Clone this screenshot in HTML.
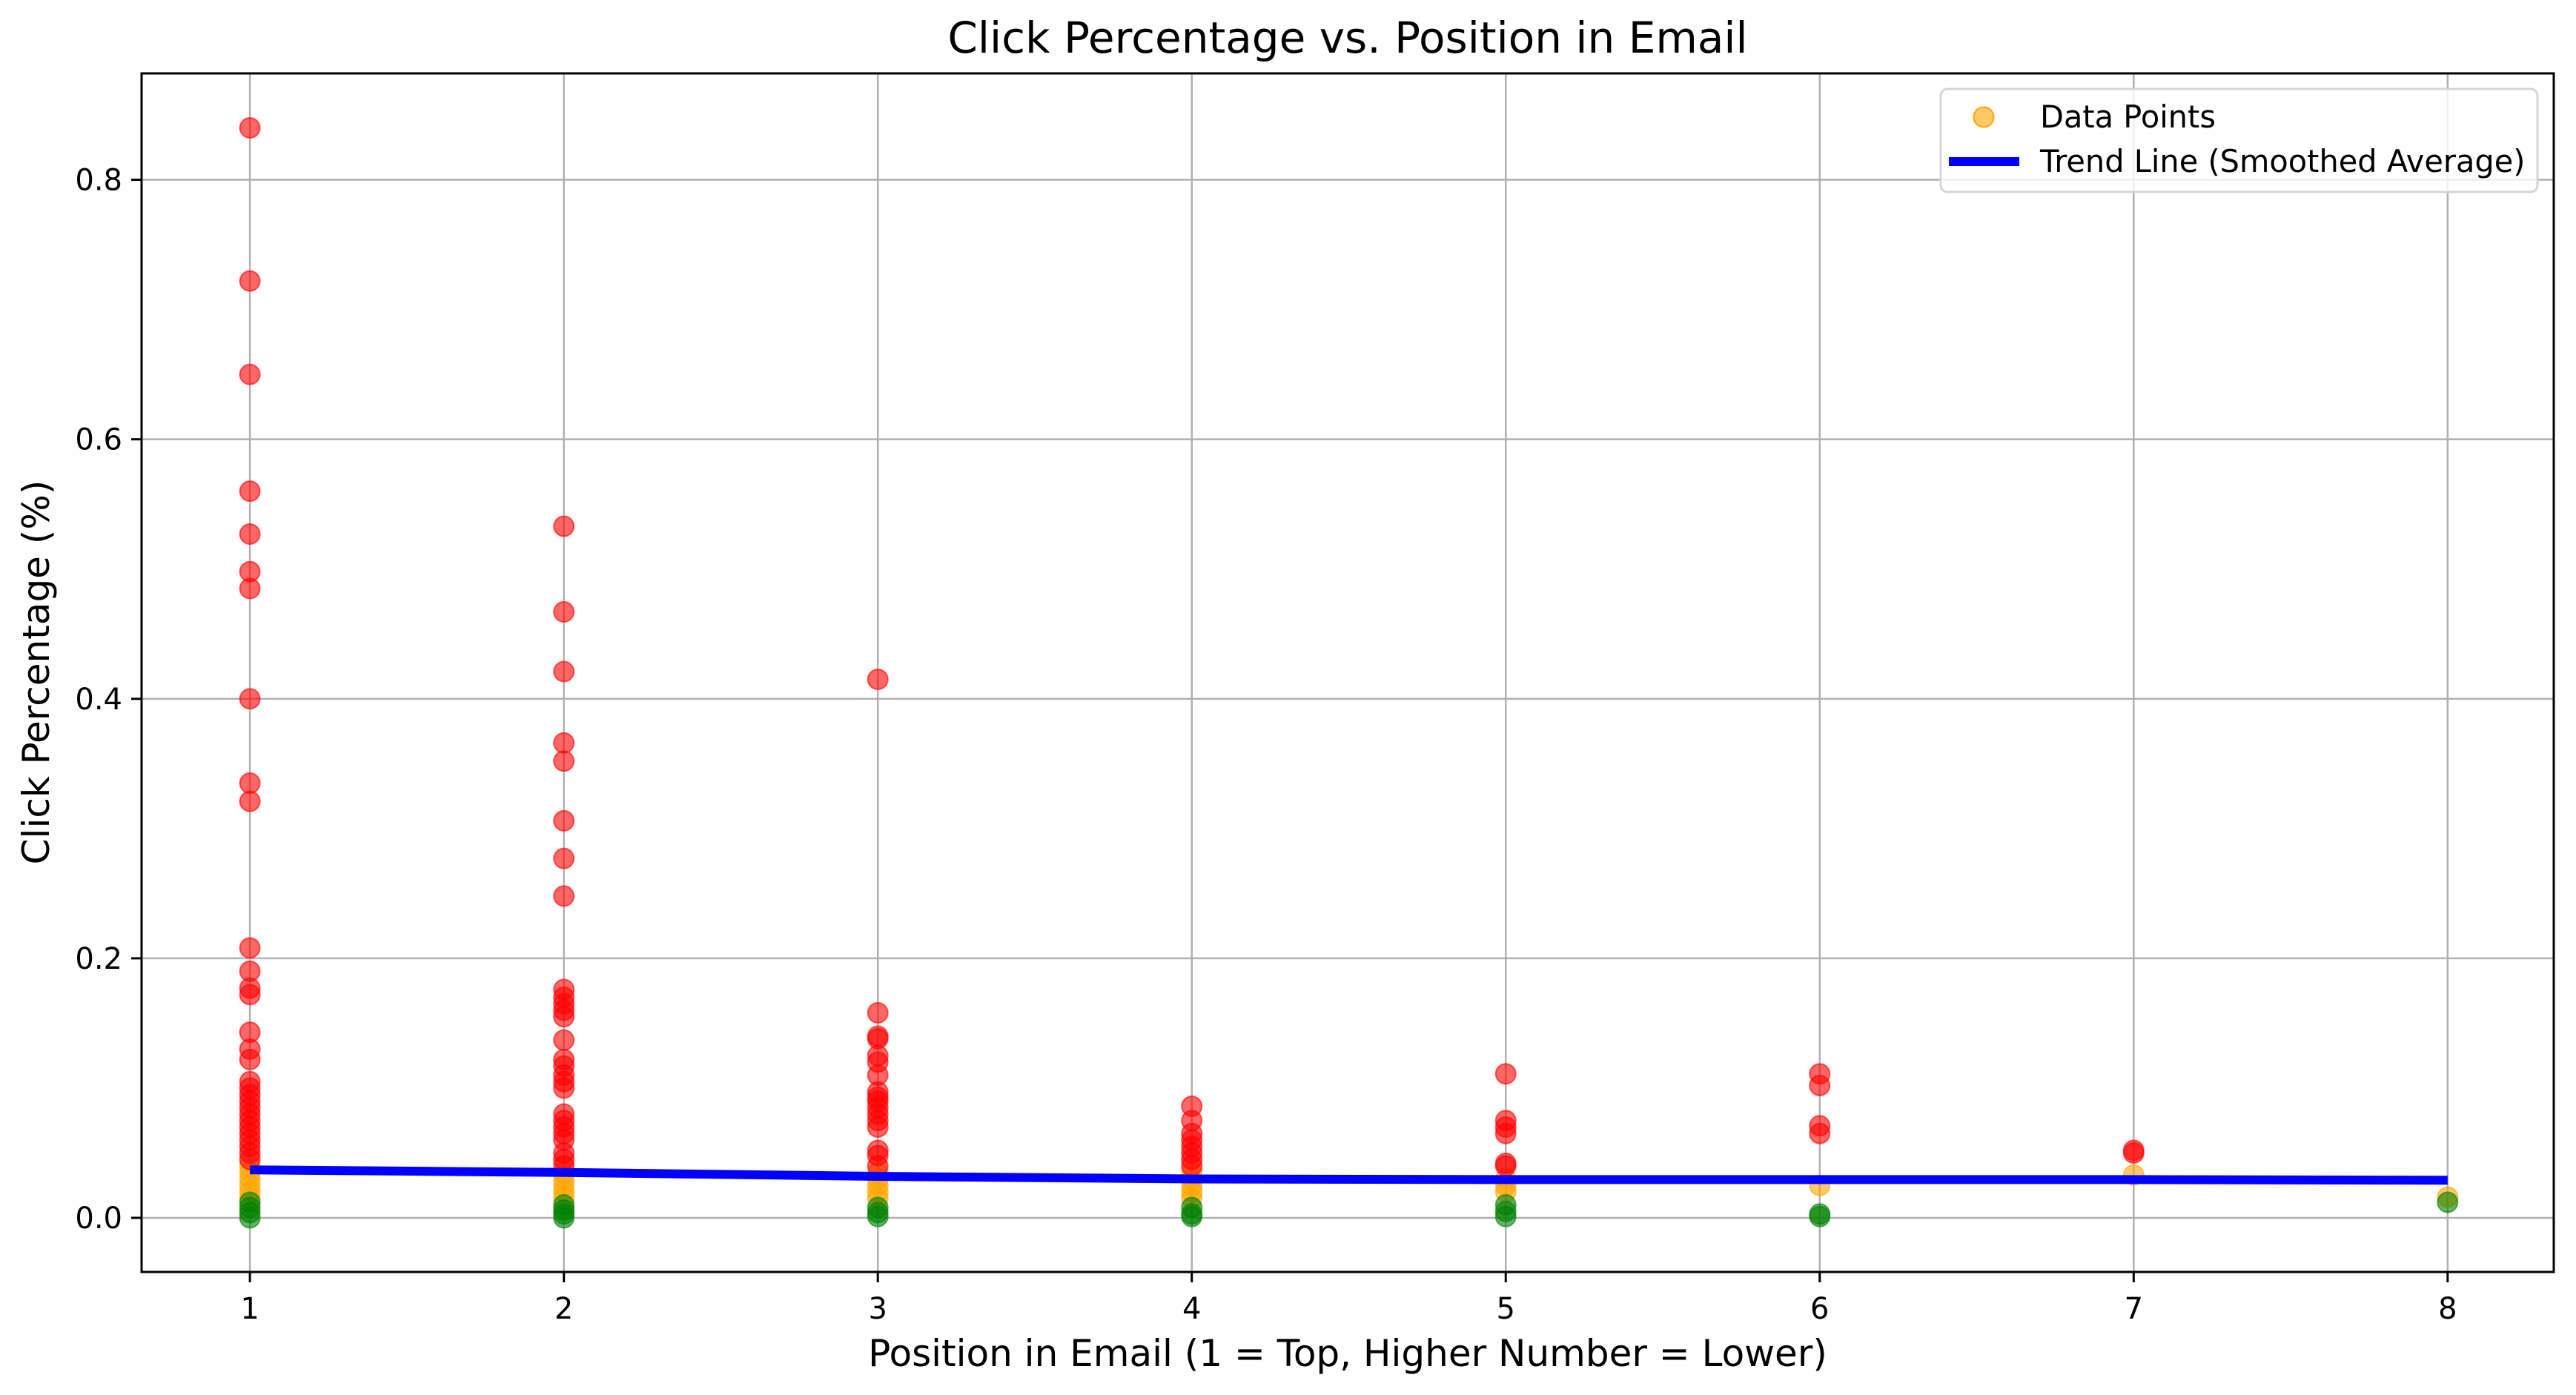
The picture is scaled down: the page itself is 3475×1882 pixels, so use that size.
<!DOCTYPE html>
<html><head><meta charset="utf-8"><style>
html,body{margin:0;padding:0;background:#fff;}
svg{display:block;font-family:"DejaVu Sans","Liberation Sans",sans-serif;}
</style></head><body>
<svg id="chart" width="3475" height="1882" viewBox="0 0 3475 1882" xmlns="http://www.w3.org/2000/svg">
<rect width="3475" height="1882" fill="#fff"/>
<g id="grid"></g>
<g id="points"></g>
<g id="trend"></g>
<rect x="191" y="99" width="3254" height="1617" fill="none" stroke="#000" stroke-width="3"/>
<g id="ticks"></g>
<text x="1818" y="71" font-size="58" text-anchor="middle">Click Percentage vs. Position in Email</text>
<text x="1818" y="1843" font-size="50" text-anchor="middle">Position in Email (1 = Top, Higher Number = Lower)</text>
<text x="0" y="0" font-size="50" text-anchor="middle" transform="translate(66,907) rotate(-90)">Click Percentage (%)</text>
<g>
<rect x="2618" y="120" width="805" height="139" rx="9" fill="#fff" fill-opacity="0.8" stroke="#d5d5d5" stroke-width="3"/>
<circle cx="2676" cy="158" r="13.5" fill="orange" fill-opacity="0.6" stroke="orange" stroke-width="2"/>
<text x="2752" y="172" font-size="41.5">Data Points</text>
<line x1="2629" y1="218" x2="2724" y2="218" stroke="#0000ff" stroke-width="12"/>
<text x="2752" y="232" font-size="41.5">Trend Line (Smoothed Average)</text>
</g>
</svg>
<script>
const xTicks = [1,2,3,4,5,6,7,8];
const yTicks = [0.0,0.2,0.4,0.6,0.8];
const yTickLabels = ["0.0","0.2","0.4","0.6","0.8"];
const redX = [1,1,1,1,1,1,1,1,1,1,1,1,1,1,1,1,1,1,1,1,1,1,1,1,1,1,1,1,1,1,
 2,2,2,2,2,2,2,2,2,2,2,2,2,2,2,2,2,2,2,2,2,2,2,2,2,2,2,
 3,3,3,3,3,3,3,3,3,3,3,3,3,3,3,3,3,
 4,4,4,4,4,4,4,4, 5,5,5,5,5,5, 6,6,6,6, 7,7];
const redY = [0.84,0.722,0.65,0.56,0.527,0.498,0.485,0.40,0.335,0.321,0.208,0.19,0.177,0.172,0.143,0.13,0.122,0.105,0.1,0.095,0.09,0.085,0.08,0.075,0.07,0.065,0.06,0.055,0.05,0.045,
 0.533,0.467,0.421,0.366,0.352,0.306,0.277,0.248,0.176,0.17,0.165,0.16,0.155,0.137,0.122,0.117,0.11,0.105,0.1,0.08,0.075,0.07,0.065,0.06,0.05,0.045,0.04,
 0.415,0.158,0.14,0.138,0.125,0.12,0.11,0.097,0.093,0.09,0.085,0.08,0.075,0.07,0.052,0.048,0.04,
 0.086,0.075,0.065,0.06,0.055,0.05,0.045,0.04, 0.111,0.075,0.07,0.065,0.042,0.04, 0.111,0.102,0.071,0.065, 0.052,0.05];
const orangeX = [1,1,1,1,1,1, 2,2,2,2,2, 3,3,3,3,3, 4,4,4,4,4, 5,5,5, 6, 7, 8];
const orangeY = [0.04,0.035,0.03,0.025,0.02,0.015, 0.035,0.03,0.025,0.02,0.015, 0.035,0.03,0.025,0.02,0.015, 0.035,0.03,0.025,0.02,0.015, 0.03,0.025,0.02, 0.025, 0.033, 0.016];
const greenX = [1,1,1,1, 2,2,2,2, 3,3,3, 4,4,4, 5,5,5, 6,6, 8];
const greenY = [0.012,0.008,0.004,0.0, 0.01,0.006,0.003,0.0, 0.008,0.004,0.001, 0.008,0.003,0.001, 0.01,0.005,0.001, 0.003,0.001, 0.012];
const trendX = [1,2,3,4,5,6,7,8];
const trendY = [0.037,0.035,0.032,0.030,0.0295,0.0295,0.0295,0.029];

const NS = "http://www.w3.org/2000/svg";
const L=191,R=3445,T=99,B=1716;
const xMin=0.655,xMax=8.338,yMin=-0.0417,yMax=0.882;
const sx = v => L+(v-xMin)/(xMax-xMin)*(R-L);
const sy = v => B-(v-yMin)/(yMax-yMin)*(B-T);
function mk(tag, attrs, parent){const e=document.createElementNS(NS,tag);for(const k in attrs)e.setAttribute(k,attrs[k]);parent.appendChild(e);return e;}
const grid=document.getElementById('grid'), ticks=document.getElementById('ticks');
xTicks.forEach(v=>{
  const g=mk('line',{x1:sx(v),x2:sx(v),y1:T,y2:B,stroke:'#b0b0b0','stroke-width':2.5},grid);
  
  
  const t=mk('line',{x1:sx(v),x2:sx(v),y1:B,y2:B+14,stroke:'#000','stroke-width':3},ticks);
  
  
  const tx=mk('text',{x:sx(v),y:1779,'font-size':40,'text-anchor':'middle'},ticks);
  tx.textContent=String(v);
  
  
});
yTicks.forEach((v,i)=>{
  const g=mk('line',{x1:L,x2:R,y1:sy(v),y2:sy(v),stroke:'#b0b0b0','stroke-width':2.5},grid);
  
  
  const t=mk('line',{x1:L-14,x2:L,y1:sy(v),y2:sy(v),stroke:'#000','stroke-width':3},ticks);
  
  
  const tx=mk('text',{x:L-26,y:sy(v)+14,'font-size':40,'text-anchor':'end'},ticks);
  tx.textContent=yTickLabels[i];
  
  
});
const pts=document.getElementById('points');
function drawSeries(xs,ys,color,name){
  xs.forEach((x,i)=>{
    const c=mk('circle',{cx:sx(x),cy:sy(ys[i]),r:13.5,fill:color,'fill-opacity':0.6,stroke:color,'stroke-opacity':0.6,'stroke-width':2},pts);
    
    
  });
}
drawSeries(orangeX,orangeY,'orange','data-point-medium');
drawSeries(redX,redY,'red','data-point-high');
drawSeries(greenX,greenY,'green','data-point-low');
const tl=mk('polyline',{points:trendX.map((x,i)=>sx(x)+','+sy(trendY[i])).join(' '),fill:'none',stroke:'#0000ff','stroke-width':12},document.getElementById('trend'));


</script>
</body></html>
